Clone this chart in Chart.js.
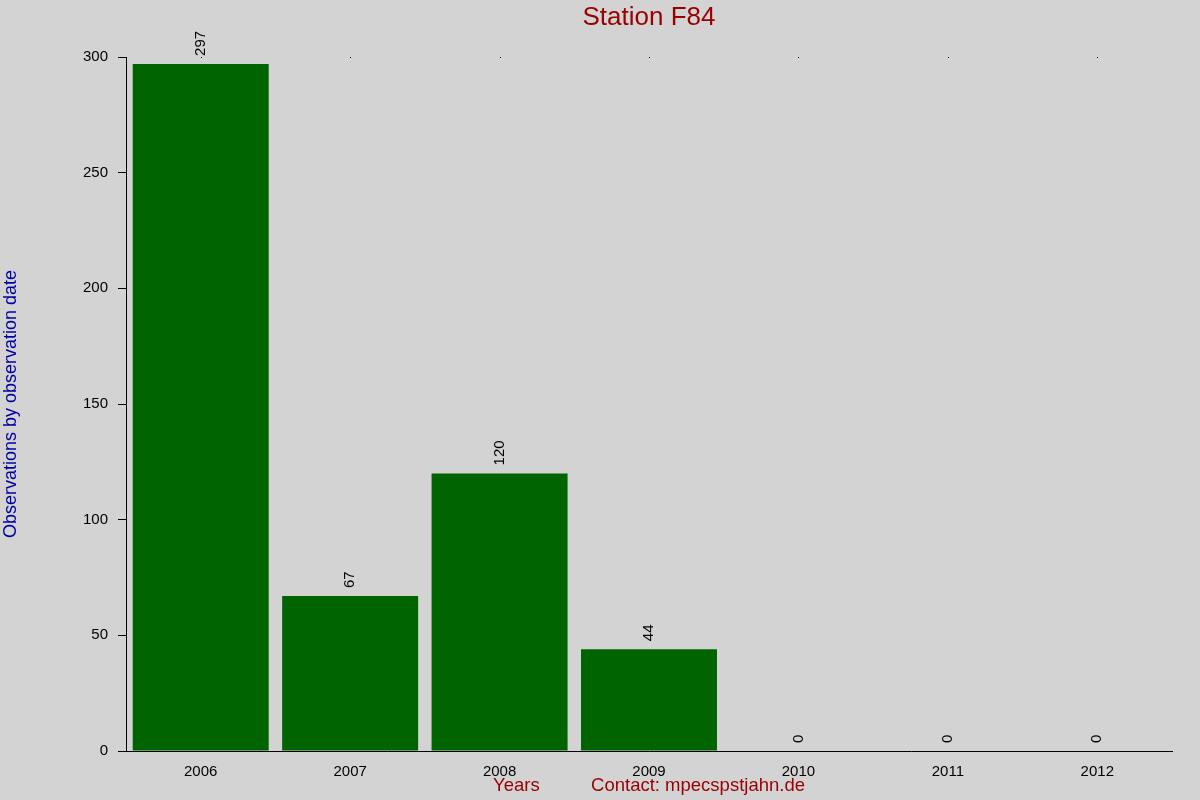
<!DOCTYPE html>
<html>
<head>
<meta charset="utf-8">
<script src="https://cdn.jsdelivr.net/npm/chart.js@4/dist/chart.umd.min.js"></script>
<style>
  html, body { margin: 0; padding: 0; background: #d3d3d3; }
  #chart-container { width: 1200px; height: 800px; }
</style>
</head>
<body>
<div id="chart-container"><canvas id="chart" width="1200" height="800"></canvas></div>
<script>
const years = ['2006', '2007', '2008', '2009', '2010', '2011', '2012']
const observations = [297, 67, 120, 44, 0, 0, 0]
const yMin = 0
const yMax = 300
const yStep = 50

const FONT = "'Liberation Sans', Arial, sans-serif"

// rotated value labels above each bar + small dots on the top edge
const barLabels = {
  id: 'barLabels',
  afterDatasetsDraw (chart) {
    const ctx = chart.ctx
    const meta = chart.getDatasetMeta(0)
    const xScale = chart.scales.x
    ctx.save()
    ctx.fillStyle = '#000'
    years.forEach((y, i) => {
      ctx.fillRect(Math.round(xScale.getPixelForValue(i)), chart.chartArea.top, 1, 1)
    })
    ctx.font = '15px ' + FONT
    ctx.textAlign = 'left'
    ctx.textBaseline = 'middle'
    meta.data.forEach((bar, i) => {
      ctx.save()
      ctx.translate(bar.x, bar.y - 8)
      ctx.rotate(-Math.PI / 2)
      ctx.fillText(String(observations[i]), 0, 0)
      ctx.restore()
    })
    ctx.restore()
  }
}

const canvas = document.getElementById('chart')
const chart = new Chart(canvas, {
  type: 'bar',
  data: {
    labels: years,
    datasets: [{
      label: 'Observations',
      data: observations,
      backgroundColor: '#006400',
      borderWidth: 0,
      barPercentage: 0.91,
      categoryPercentage: 1
    }]
  },
  options: {
    responsive: false,
    animation: false,
    devicePixelRatio: 1,
    layout: { padding: { top: 0, right: 28, left: 0, bottom: 0 } },
    plugins: {
      legend: { display: false },
      tooltip: { enabled: false },
      title: {
        display: true,
        fullSize: false,
        text: 'Station F84',
        color: '#990000',
        font: { family: FONT, size: 26, weight: 'normal' },
        padding: { top: 2, bottom: 23.8 }
      }
    },
    scales: {
      x: {
        offset: true,
        grid: { display: false },
        border: { display: true, color: '#000', width: 1 },
        ticks: { color: '#000', font: { family: FONT, size: 15 }, padding: 4, maxRotation: 0 },
        title: {
          display: true,
          text: 'Years          Contact: mpecspstjahn.de',
          color: '#990000',
          font: { family: FONT, size: 18.5 },
          padding: { top: 0, bottom: 3 }
        },
        afterFit: s => { s.height = 49 }
      },
      y: {
        min: yMin,
        max: yMax,
        grid: { drawOnChartArea: false, drawTicks: true, tickLength: 8, color: '#000' },
        border: { display: true, color: '#000', width: 1 },
        ticks: { stepSize: yStep, color: '#000', font: { family: FONT, size: 15 }, padding: 10 },
        title: {
          display: true,
          text: 'Observations by observation date',
          color: '#0000a0',
          font: { family: FONT, size: 18 },
          padding: { top: 0, bottom: 0 }
        },
        afterFit: s => { s.width = 126 }
      }
    }
  },
  plugins: [barLabels]
})
</script>
</body>
</html>
